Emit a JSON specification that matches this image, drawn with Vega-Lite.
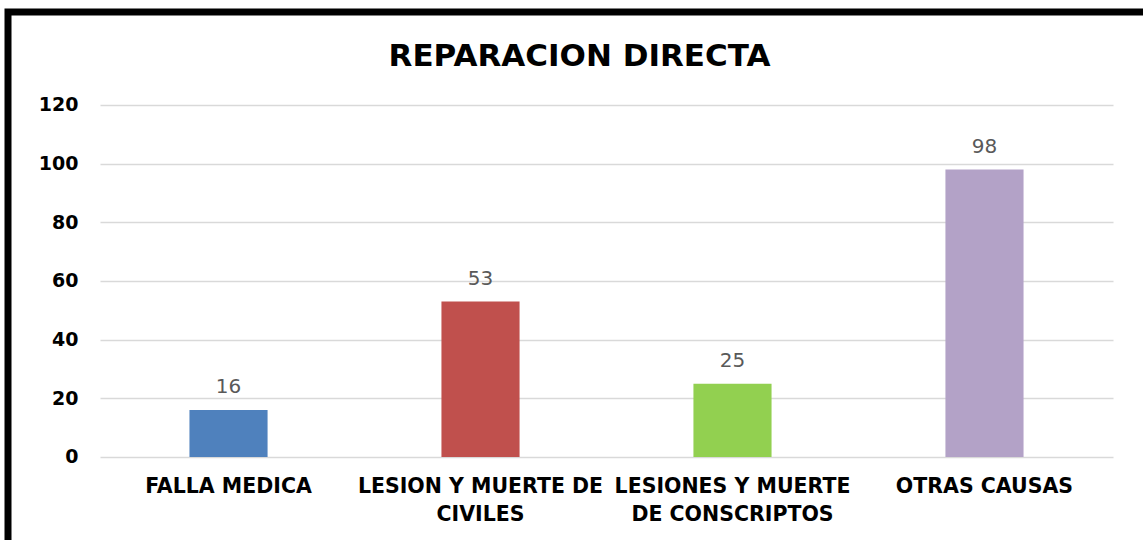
{
  "$schema": "https://vega.github.io/schema/vega-lite/v6.json",
  "autosize": "none",
  "padding": {"left": 8, "top": 12, "right": 0, "bottom": 0},
  "width": 1135,
  "height": 528,
  "background": "white",
  "title": {
    "text": "REPARACION DIRECTA",
    "font": "DejaVu Sans",
    "fontSize": 31,
    "fontWeight": "bold",
    "color": "#000000",
    "anchor": "middle",
    "offset": -61,
    "dx": 4
  },
  "data": {
    "values": [
      {"causa": "FALLA MEDICA", "valor": 16},
      {"causa": "LESION Y MUERTE DE CIVILES", "valor": 53},
      {"causa": "LESIONES Y MUERTE DE CONSCRIPTOS", "valor": 25},
      {"causa": "OTRAS CAUSAS", "valor": 98}
    ]
  },
  "encoding": {
    "x": {
      "field": "causa",
      "type": "nominal",
      "sort": null,
      "scale": {"range": [92, 1105], "paddingInner": 0.69, "paddingOuter": 0.355},
      "axis": {
        "title": null,
        "orient": "bottom",
        "offset": -83,
        "domain": false,
        "ticks": false,
        "grid": false,
        "labelAngle": 0,
        "labelLimit": 0,
        "labelOverlap": false,
        "labelPadding": 19,
        "labelFont": "DejaVu Sans",
        "labelFontSize": 20.5,
        "labelFontWeight": "bold",
        "labelColor": "#000000",
        "labelLineHeight": 28,
        "labelExpr": "split(replace(replace(datum.label, ' DE CIVILES', ' DE|CIVILES'), 'MUERTE DE CONSCRIPTOS', 'MUERTE|DE CONSCRIPTOS'), '|')"
      }
    },
    "y": {
      "field": "valor",
      "type": "quantitative",
      "scale": {"domain": [-28.3, 151.7], "nice": false, "zero": false},
      "axis": {
        "title": null,
        "values": [0, 20, 40, 60, 80, 100, 120],
        "offset": -80,
        "domain": false,
        "ticks": false,
        "grid": true,
        "gridColor": "#D9D9D9",
        "gridWidth": 1.3,
        "labelPadding": 10,
        "labelFont": "DejaVu Sans",
        "labelFontSize": 19,
        "labelFontWeight": "bold",
        "labelColor": "#000000"
      }
    }
  },
  "layer": [
    {
      "mark": {"type": "bar"},
      "encoding": {
        "y2": {"datum": 0},
        "color": {
          "field": "causa",
          "type": "nominal",
          "sort": null,
          "scale": {
            "domain": ["FALLA MEDICA", "LESION Y MUERTE DE CIVILES", "LESIONES Y MUERTE DE CONSCRIPTOS", "OTRAS CAUSAS"],
            "range": ["#4F81BD", "#C0504D", "#92D050", "#B3A2C7"]
          },
          "legend": null
        }
      }
    },
    {
      "mark": {
        "type": "text",
        "baseline": "alphabetic",
        "dy": -17,
        "font": "DejaVu Sans",
        "fontSize": 20,
        "color": "#595959"
      },
      "encoding": {
        "text": {"field": "valor", "type": "quantitative"}
      }
    }
  ],
  "config": {
    "view": {
      "stroke": "#000000",
      "strokeWidth": 7,
      "strokeDash": [1135, 1663, 528],
      "strokeCap": "square"
    }
  }
}
